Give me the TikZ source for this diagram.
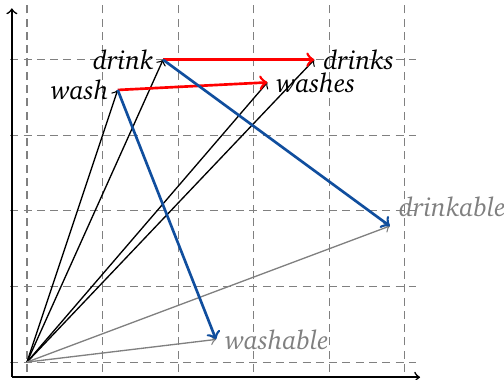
\documentclass[tikz,border=0pt]{standalone}
\usepackage[T1]{fontenc}
\renewcommand{\rmdefault}{bch}
\definecolor{vecblue}{RGB}{16,78,158}
\tikzset{
  gridline/.style={gray, line width=0.4pt, dash pattern=on 3pt off 2pt},
  axis/.style={->, line width=0.6pt},
  basevec/.style={->, black, line width=0.5pt},
  derivvec/.style={->, gray, line width=0.5pt},
  inflect/.style={->, red, line width=1pt},
  derive/.style={->, vecblue, line width=1pt},
  word/.style={font=\itshape, inner sep=3.3pt},
  derivword/.style={word, text=gray},
}
\begin{document}
\begin{tikzpicture}
\useasboundingbox (-0.357,-0.225) rectangle (6.31,4.79);
% background grid
\foreach \x in {0,...,5} \draw[gridline] (\x,-0.13) -- (\x,4.72);
\foreach \y in {0,...,4} \draw[gridline] (-0.22,\y) -- (5.14,\y);
% axes
\coordinate (xs) at (-0.2,-0.2);
\coordinate (xe) at (5.2,-0.2);
\coordinate (ye) at (-0.2,4.68);
\draw[axis] (xs) -- (xe);
\draw[axis] (xs) -- (ye);
% word vectors
\coordinate (o) at (0,0);
\coordinate (drink) at (1.8,4);
\coordinate (wash) at (1.2,3.6);
\coordinate (drinks) at (3.8,4);
\coordinate (washes) at (3.18,3.7);
\coordinate (drinkable) at (4.8,1.8);
\coordinate (washable) at (2.5,0.3);
\draw[basevec] (o) -- (drink);
\draw[basevec] (o) -- (wash);
\draw[basevec] (o) -- (drinks);
\draw[basevec] (o) -- (washes);
\draw[derivvec] (o) -- (drinkable);
\draw[derivvec] (o) -- (washable);
\draw[inflect] (drink) -- (drinks);
\draw[inflect] (wash) -- (washes);
\draw[derive] (drink) -- (drinkable);
\draw[derive] (wash) -- (washable);
% labels
\node[word, left] (ldrink) at (drink) {drink};
\node[word, left] (lwash) at (wash) {wash};
\node[word, right] (ldrinks) at (drinks) {drinks};
\node[word, right] (lwashes) at (washes) {washes};
\node[derivword, above right] (ldrinkable) at (drinkable) {drinkable};
\node[derivword, right] (lwashable) at (washable) {washable};
\end{tikzpicture}
\end{document}
